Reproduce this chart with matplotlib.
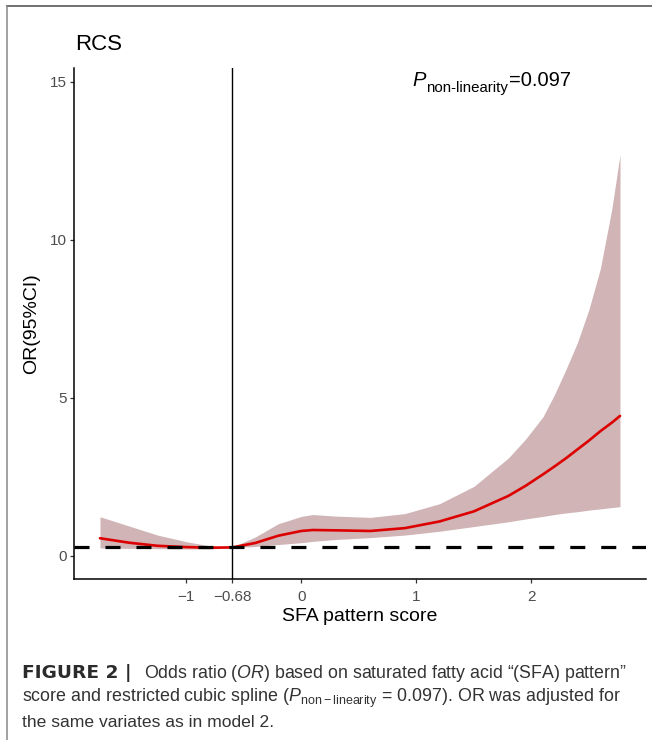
import matplotlib
matplotlib.use("Agg")
import matplotlib.pyplot as plt
from matplotlib.lines import Line2D
import numpy as np

plt.rcParams['font.family'] = ['Liberation Sans', 'DejaVu Sans']
plt.rcParams['mathtext.fontset'] = 'custom'
plt.rcParams['mathtext.rm'] = 'Liberation Sans'
plt.rcParams['mathtext.it'] = 'Liberation Sans:italic'
plt.rcParams['mathtext.bf'] = 'Liberation Sans:bold'

# ---- data ----
score = [-1.75, -1.5, -1.25, -1.0, -0.8, -0.6, -0.4, -0.2, 0.0, 0.1, 0.3, 0.6,
         0.9, 1.2, 1.5, 1.8, 1.95, 2.1, 2.2, 2.3, 2.4, 2.5, 2.6, 2.7, 2.77]
or_est = [0.56, 0.42, 0.32, 0.28, 0.26, 0.27, 0.41, 0.64, 0.79, 0.82, 0.81, 0.79,
          0.88, 1.09, 1.41, 1.90, 2.22, 2.58, 2.83, 3.09, 3.37, 3.65, 3.95, 4.22, 4.43]
or_low = [0.25, 0.24, 0.23, 0.22, 0.22, 0.26, 0.30, 0.36, 0.42, 0.46, 0.52, 0.58,
          0.66, 0.78, 0.93, 1.08, 1.17, 1.25, 1.31, 1.36, 1.40, 1.45, 1.49, 1.53, 1.56]
or_up = [1.24, 0.95, 0.66, 0.45, 0.32, 0.28, 0.60, 1.02, 1.25, 1.31, 1.26, 1.22,
         1.34, 1.65, 2.20, 3.10, 3.70, 4.40, 5.10, 5.90, 6.75, 7.80, 9.10, 11.00, 12.70]
ref_x = -0.6
ref_y = 0.27
x_ticks = [-1, -0.6, 0, 1, 2]
x_ticklabels = ['\u22121', '\u22120.68', '0', '1', '2']
y_ticks = [0, 5, 10, 15]
y_limits = (-0.73, 15.44)

W, H = 652, 740
fig = plt.figure(figsize=(W / 100, H / 100), dpi=100)
ax = fig.add_axes([74 / W, 1 - 579 / H, (646 - 74) / W, (579 - 68) / H])

ax.fill_between(score, or_low, or_up, color='#d0b4b6', linewidth=0, zorder=1)
ax.plot(score, or_est, color='#dd0000', linewidth=1.9, zorder=2,
        solid_joinstyle='round', solid_capstyle='round')
ax.axvline(ref_x, color='black', linewidth=1.0, zorder=3)
ax.axhline(ref_y, color='black', linewidth=2.3, linestyle=(0, (4.7, 5.0)), zorder=4)

xr = max(score) - min(score)
ax.set_xlim(min(score) - 0.05 * xr, max(score) + 0.05 * xr)
ax.set_ylim(*y_limits)
ax.set_xticks(x_ticks)
ax.set_xticklabels(x_ticklabels)
ax.set_yticks(y_ticks)

for s in ['top', 'right']:
    ax.spines[s].set_visible(False)
for s in ['left', 'bottom']:
    ax.spines[s].set_linewidth(1.1)
    ax.spines[s].set_color('black')
ax.tick_params(axis='both', direction='out', length=3, width=0.9, color='#333333',
               labelcolor='#4d4d4d', labelsize=11)
ax.tick_params(axis='x', pad=5)
ax.tick_params(axis='y', pad=2)

ax.set_xlabel('SFA pattern score', fontsize=14, labelpad=3)
ax.set_ylabel('OR(95%CI)', fontsize=14, labelpad=7)

# title
fig.text(75 / W, 1 - 45 / H, 'RCS', fontsize=16, ha='left', va='center')

# P annotation
t1 = ax.text(0.592, 0.964, 'P', transform=ax.transAxes, fontsize=14.5, style='italic',
             ha='left', va='baseline')
t2 = ax.annotate('non-linearity', xy=(1, 0), xycoords=t1, xytext=(0.3, -1.5),
                 textcoords='offset points', fontsize=10.8, ha='left', va='baseline')
t3 = ax.annotate('=0.097', xy=(1, 0), xycoords=(t2, t1), xytext=(0.3, 3.3),
                 textcoords='offset points', fontsize=14.5, ha='left', va='baseline')

# caption
cap_col = '#333333'
c1 = fig.text(22 / W, 1 - 678 / H, 'FIGURE 2 |', fontsize=13.3, weight='bold',
              family='DejaVu Sans', color='#2b2b2b', ha='left', va='baseline')
fig.text(144 / W, 1 - 678 / H,
         r'Odds ratio ($\mathit{OR}$) based on saturated fatty acid '
         + '\u201c(SFA) pattern\u201d', fontsize=12.8, color=cap_col,
         ha='left', va='baseline')
fig.text(22 / W, 1 - 702 / H,
         r'score and restricted cubic spline ($P_{\mathrm{non-linearity}}$ = 0.097). OR was adjusted for',
         fontsize=12.9, color=cap_col, ha='left', va='baseline')
fig.text(22 / W, 1 - 727 / H, 'the same variates as in model 2.',
         fontsize=12.6, color=cap_col, ha='left', va='baseline')

# border lines
fig.add_artist(Line2D([7 / W, 1], [1 - 6 / H, 1 - 6 / H], color='#666666', linewidth=1.3))
fig.add_artist(Line2D([7 / W, 7 / W], [0, 1 - 6 / H], color='#888888', linewidth=1.1))

fig.savefig('out.png', dpi=100)
